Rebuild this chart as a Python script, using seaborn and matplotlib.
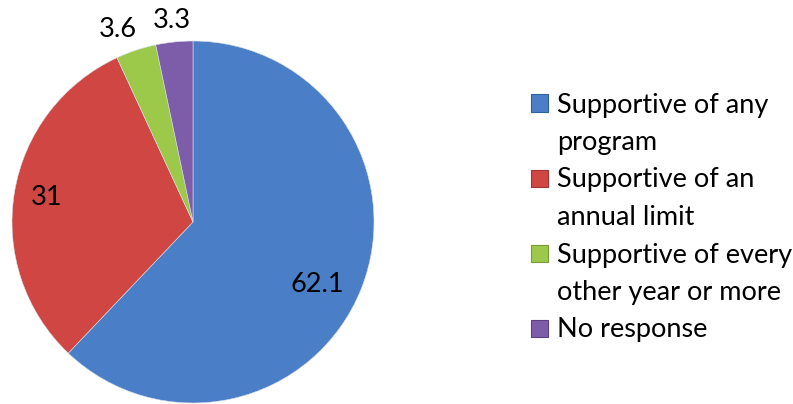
import matplotlib
matplotlib.use("Agg")
import matplotlib.pyplot as plt
from matplotlib.patches import Rectangle
import numpy as np
import seaborn as sns

sns.set_theme(style="white")
plt.rcParams['font.family'] = ['Lato', 'DejaVu Sans']

categories = ["Supportive of any\nprogram",
              "Supportive of an\nannual limit",
              "Supportive of every\nother year or more",
              "No response"]
values = [62.1, 31, 3.6, 3.3]
value_labels = ["62.1", "31", "3.6", "3.3"]
colors = ["#4a7ec6", "#cf4643", "#9dc94b", "#7d5daa"]
edge_colors = ["#2f5f9e", "#a23532", "#769a35", "#5c4283"]
label_dist = [0.77, 0.82, 1.14, 1.12]
label_angle_shift = [-5, 0, 3, 0]

W, H = 793, 404
fig = plt.figure(figsize=(W / 100, H / 100), dpi=100)
fig.patch.set_facecolor("white")

cx, cy, r = 193, 222, 181
ax = fig.add_axes([(cx - r) / W, (H - cy - r) / H, 2 * r / W, 2 * r / H])
wedges, _ = ax.pie(values, colors=colors, startangle=90, counterclock=False,
                   radius=1, wedgeprops=dict(edgecolor="#d8e0ea", linewidth=0.4))
ax.set_xlim(-1, 1)
ax.set_ylim(-1, 1)
ax.set_aspect("equal")
ax.axis("off")

for w, lab, d, s in zip(wedges, value_labels, label_dist, label_angle_shift):
    mid = np.deg2rad((w.theta1 + w.theta2) / 2 + s)
    ax.text(d * np.cos(mid), d * np.sin(mid), lab, ha="center", va="center",
            fontsize=19.5, color="black", clip_on=False)

# legend
line_h = 37.5
y0 = 105
x_text = 557
x_mark = 539
msize = 17
line_idx = 0
for cat, col, ec in zip(categories, colors, edge_colors):
    lines = cat.split("\n")
    ymark = y0 + line_idx * line_h - 2
    fig.patches.append(Rectangle(((x_mark - msize / 2) / W, (H - ymark - msize / 2) / H),
                                 msize / W, msize / H, transform=fig.transFigure,
                                 facecolor=col, edgecolor=ec, linewidth=0.8))
    for ln in lines:
        y = y0 + line_idx * line_h
        fig.text(x_text / W, (H - y) / H, ln, ha="left", va="center",
                 fontsize=19.5, color="black")
        line_idx += 1

fig.savefig("out.png", dpi=100, facecolor="white")
